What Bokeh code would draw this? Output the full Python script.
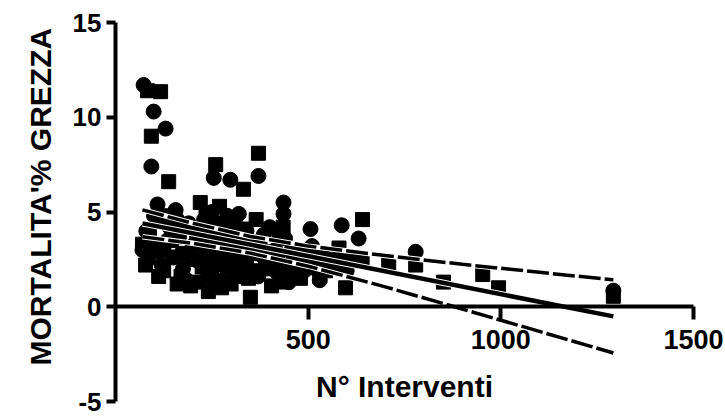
from bokeh.plotting import figure
from bokeh.models import Range1d, FixedTicker, Title
from bokeh.embed import file_html
from bokeh.resources import INLINE

# ---- data ----
circle_x = [73, 99, 130, 93, 255, 298, 371, 109, 156, 250, 290, 320, 436, 436, 506, 587, 631, 779, 1292,
            70, 80, 95, 115, 125, 140, 150, 165, 175, 190, 200, 215, 230, 240, 255, 265, 275, 285, 295,
            305, 315, 325, 340, 350, 360, 380, 400, 415, 430, 440, 450, 470, 490, 510, 530, 560, 580, 600,
            85, 100, 120, 135, 160, 170, 185, 205, 220, 235, 245, 260, 270, 280, 300, 310, 330, 345,
            370, 385, 395, 420, 455, 480, 520, 545]
circle_y = [11.7, 10.3, 9.4, 7.4, 6.8, 6.7, 6.9, 5.4, 5.1, 5.0, 4.8, 4.9, 5.5, 4.9, 4.1, 4.3, 3.6, 2.9, 0.85,
            3.0, 4.0, 3.4, 4.5, 3.0, 4.2, 2.6, 3.7, 2.0, 4.4, 3.2, 2.4, 4.6, 1.6, 3.6, 2.9, 4.3, 2.1, 3.9,
            1.5, 3.1, 2.5, 4.0, 1.8, 3.4, 2.7, 4.2, 3.0, 2.2, 3.6, 1.3, 2.6, 1.9, 3.2, 1.4, 2.3, 2.6, 1.9,
            2.5, 4.8, 2.2, 3.5, 4.6, 2.8, 1.4, 4.1, 3.3, 2.8, 4.0, 2.2, 3.4, 1.3, 4.4, 2.6, 3.6, 2.9,
            1.6, 3.8, 2.3, 1.8, 2.9, 2.2, 2.0, 2.6]

square_x = [83, 117, 93, 138, 260, 371, 332, 220, 641, 709, 779, 851, 953, 994, 1292, 597, 350, 241,
            70, 78, 112, 130, 145, 160, 185, 195, 210, 225, 235, 245, 260, 270, 280, 290, 300, 310,
            320, 335, 345, 355, 365, 390, 405, 420, 435, 445, 460, 480, 500, 520, 545, 580, 610, 640,
            88, 105, 125, 150, 170, 180, 200, 215, 230, 250, 265, 275, 285, 295, 315, 330, 340, 360,
            375, 400, 425, 440, 470, 490, 530, 555, 590]
square_y = [11.4, 11.35, 9.0, 6.6, 7.5, 8.1, 6.2, 5.5, 4.6, 2.3, 2.2, 1.3, 1.7, 1.0, 0.55, 1.0, 0.5, 0.8,
            3.3, 2.2, 1.6, 4.8, 3.5, 1.2, 2.8, 1.1, 3.9, 2.1, 4.9, 3.0, 1.4, 5.3, 2.4, 3.4, 1.2, 4.2,
            2.0, 3.0, 1.5, 2.8, 4.6, 2.0, 1.1, 2.6, 4.2, 1.8, 2.2, 1.5, 2.4, 2.7, 1.9, 3.1, 2.5, 2.5,
            3.8, 2.9, 1.9, 4.0, 1.6, 4.3, 2.5, 1.3, 3.6, 2.0, 4.4, 1.0, 3.9, 2.7, 1.6, 4.1, 2.4, 1.9,
            3.3, 2.9, 3.9, 1.3, 1.9, 2.9, 1.6, 2.2, 2.0]

fit_x = [70, 1292]
fit_y = [4.40, -0.51]

band_x = [70, 200, 350, 500, 700, 900, 1100, 1292]
band_upper = [5.11, 4.41, 3.71, 3.20, 2.70, 2.24, 1.82, 1.42]
band_lower = [3.69, 3.35, 2.83, 2.14, 1.05, -0.12, -1.30, -2.44]

x_ticks = [500, 1000, 1500]
y_ticks = [-5, 0, 5, 10, 15]
x_label = "N° Interventi"
y_label = "MORTALITA'% GREZZA"

FONT = "Liberation Sans"

p = figure(width=725, height=416, output_backend="svg", toolbar_location=None,
           x_range=Range1d(0, 1583), y_range=Range1d(-5, 15),
           min_border_left=115, min_border_right=0, min_border_top=22, min_border_bottom=15)
p.outline_line_color = None
p.xgrid.visible = False
p.ygrid.visible = False
p.background_fill_color = "white"
p.border_fill_color = "white"

p.scatter(circle_x, circle_y, marker="circle", size=15, fill_color="black", line_color="black")
p.scatter(square_x, square_y, marker="square", size=14, fill_color="black", line_color="black")

# regression + confidence bands, drawn over the points with a thin white halo
for yy in (band_upper, band_lower):
    p.line(band_x, yy, line_color="white", line_width=5.5)
p.line(fit_x, fit_y, line_color="white", line_width=6.5)
for yy in (band_upper, band_lower):
    p.line(band_x, yy, line_color="black", line_width=3.5, line_dash="22 4")
p.line(fit_x, fit_y, line_color="black", line_width=4.5)

# x axis crossing at y = 0
xa = p.xaxis[0]
xa.fixed_location = 0
xa.bounds = (0, 1500)
xa.ticker = FixedTicker(ticks=x_ticks)
xa.axis_line_width = 4
xa.major_tick_line_width = 4
xa.major_tick_out = 13
xa.major_tick_in = 0
xa.minor_tick_line_color = None
xa.major_label_standoff = 10
xa.major_label_text_font = FONT
xa.major_label_text_font_style = "bold"
xa.major_label_text_font_size = "27px"
xa.major_label_text_color = "black"
xa.axis_label = x_label
xa.axis_label_text_font = FONT
xa.axis_label_text_font_style = "bold"
xa.axis_label_text_font_size = "30px"
xa.axis_label_text_color = "black"
xa.axis_label_standoff = 18

ya = p.yaxis[0]
ya.ticker = FixedTicker(ticks=y_ticks)
ya.major_label_overrides = {t: str(t) for t in y_ticks}
ya.axis_line_width = 4
ya.major_tick_line_width = 4
ya.major_tick_out = 9
ya.major_tick_in = 0
ya.minor_tick_line_color = None
ya.major_label_standoff = 5
ya.major_label_text_font = FONT
ya.major_label_text_font_style = "bold"
ya.major_label_text_font_size = "26px"
ya.major_label_text_color = "black"

ytitle = Title(text=y_label, align="left", offset=36, vertical_align="top", standoff=22,
               text_font=FONT, text_font_style="bold", text_font_size="30px", text_color="black")
p.add_layout(ytitle, "left")

open("out.html", "w").write(file_html(p, INLINE))
